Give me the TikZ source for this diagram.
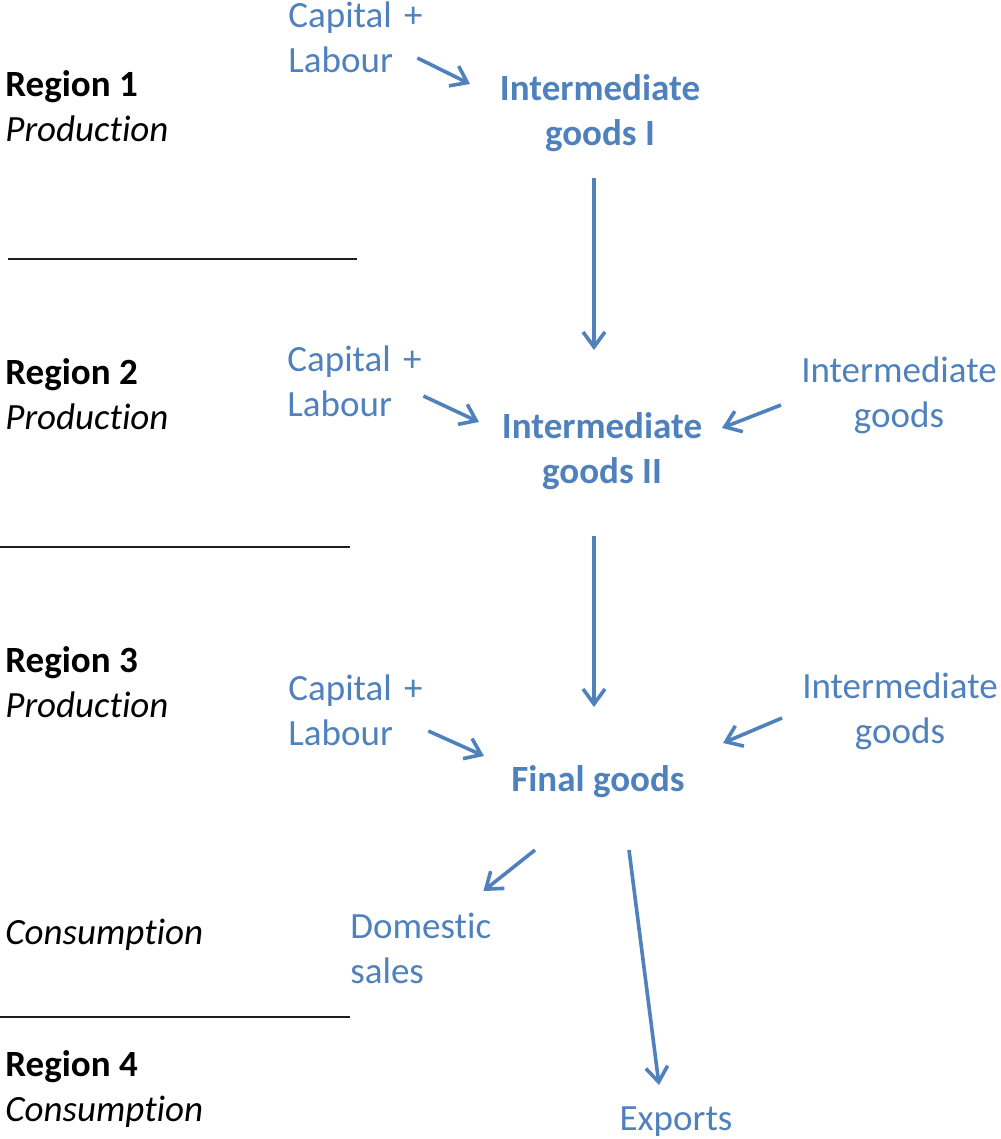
\documentclass[tikz,border=0pt]{standalone}
\usepackage{fontspec}
\setmainfont{Carlito}[Ligatures=NoCommon]
\usetikzlibrary{positioning,arrows.meta,calc}
\definecolor{flowblue}{RGB}{79,129,189}
\definecolor{sepline}{RGB}{30,30,30}
\newcommand{\diagfont}{\fontsize{18.5}{22.5}\selectfont}
\tikzset{
  region/.style={anchor=west, align=left, inner sep=0pt, text=black},
  input/.style={anchor=west, align=left, inner sep=0pt, text=flowblue, text width=70pt},
  good/.style={align=center, inner sep=0pt, text=flowblue, font=\diagfont\bfseries},
  side/.style={align=center, inner sep=0pt, text=flowblue},
  flow/.style={-{Straight Barb[length=7.5pt, width=11pt, line width=1.8pt]}, draw=flowblue,
               line width=1.8pt},
  sep/.style={draw=sepline, line width=1pt},
}

\begin{document}
\begin{tikzpicture}[x=0.5pt, y=-0.5pt, font=\diagfont]
  \useasboundingbox (0,0) rectangle (1000,1139);

  %% regions on the left
  \node[region] (reg1) at (5,106) {\textbf{Region 1}\\\textit{Production}};
  \node[region] (reg2) at (5,394) {\textbf{Region 2}\\\textit{Production}};
  \node[region] (reg3) at (5,682) {\textbf{Region 3}\\\textit{Production}};
  \node[region] (cons) at (5,935) {\textit{Consumption}};
  \node[region] (reg4) at (5,1089) {\textbf{Region 4}\\\textit{Consumption}};
  \draw[sep] (8,259) -- (357,259);
  \draw[sep] (0,547) -- (350,547);
  \draw[sep] (0,1017) -- (350,1017);

  %% production chain
  \node[input] (cl1) at (288,37) {Capital +\\Labour};
  \node[good] (ig1) at (600,113) {Intermediate\\goods I};
  \node[input] (cl2) at (287,381) {Capital +\\Labour};
  \node[good] (ig2) at (602,451) {Intermediate\\goods II};
  \node[side] (im2) at (899,395) {Intermediate\\goods};
  \node[input] (cl3) at (288,710) {Capital +\\Labour};
  \node[good] (fg) at (598,782) {Final goods};
  \node[side] (im3) at (900,711) {Intermediate\\goods};
  \node[input, text width=75pt] (dom) at (350,948) {Domestic\\sales};
  \node[side] (exp) at (676,1122) {Exports};

  \draw[flow] ([shift={(59,21)}]cl1.center) -- ([shift={(-130,-29)}]ig1.center);
  \draw[flow] ([shift={(-6,65)}]ig1.center) -- ([shift={(-8,-101)}]ig2.center);
  \draw[flow] ([shift={(66,15)}]cl2.center) -- ([shift={(-123,-29)}]ig2.center);
  \draw[flow] ([shift={(-118,10)}]im2.center) -- ([shift={(120,-23)}]ig2.center);
  \draw[flow] ([shift={(-8,85)}]ig2.center) -- ([shift={(-4,-75)}]fg.center);
  \draw[flow] ([shift={(70,21)}]cl3.center) -- ([shift={(-114,-26)}]fg.center);
  \draw[flow] ([shift={(-118,7)}]im3.center) -- ([shift={(125,-39)}]fg.center);
  \draw[flow] ([shift={(-63,68)}]fg.center) -- ([shift={(58,-57)}]dom.center);
  \draw[flow] ([shift={(31,68)}]fg.center) -- ([shift={(-17,-37)}]exp.center);
\end{tikzpicture}
\end{document}
